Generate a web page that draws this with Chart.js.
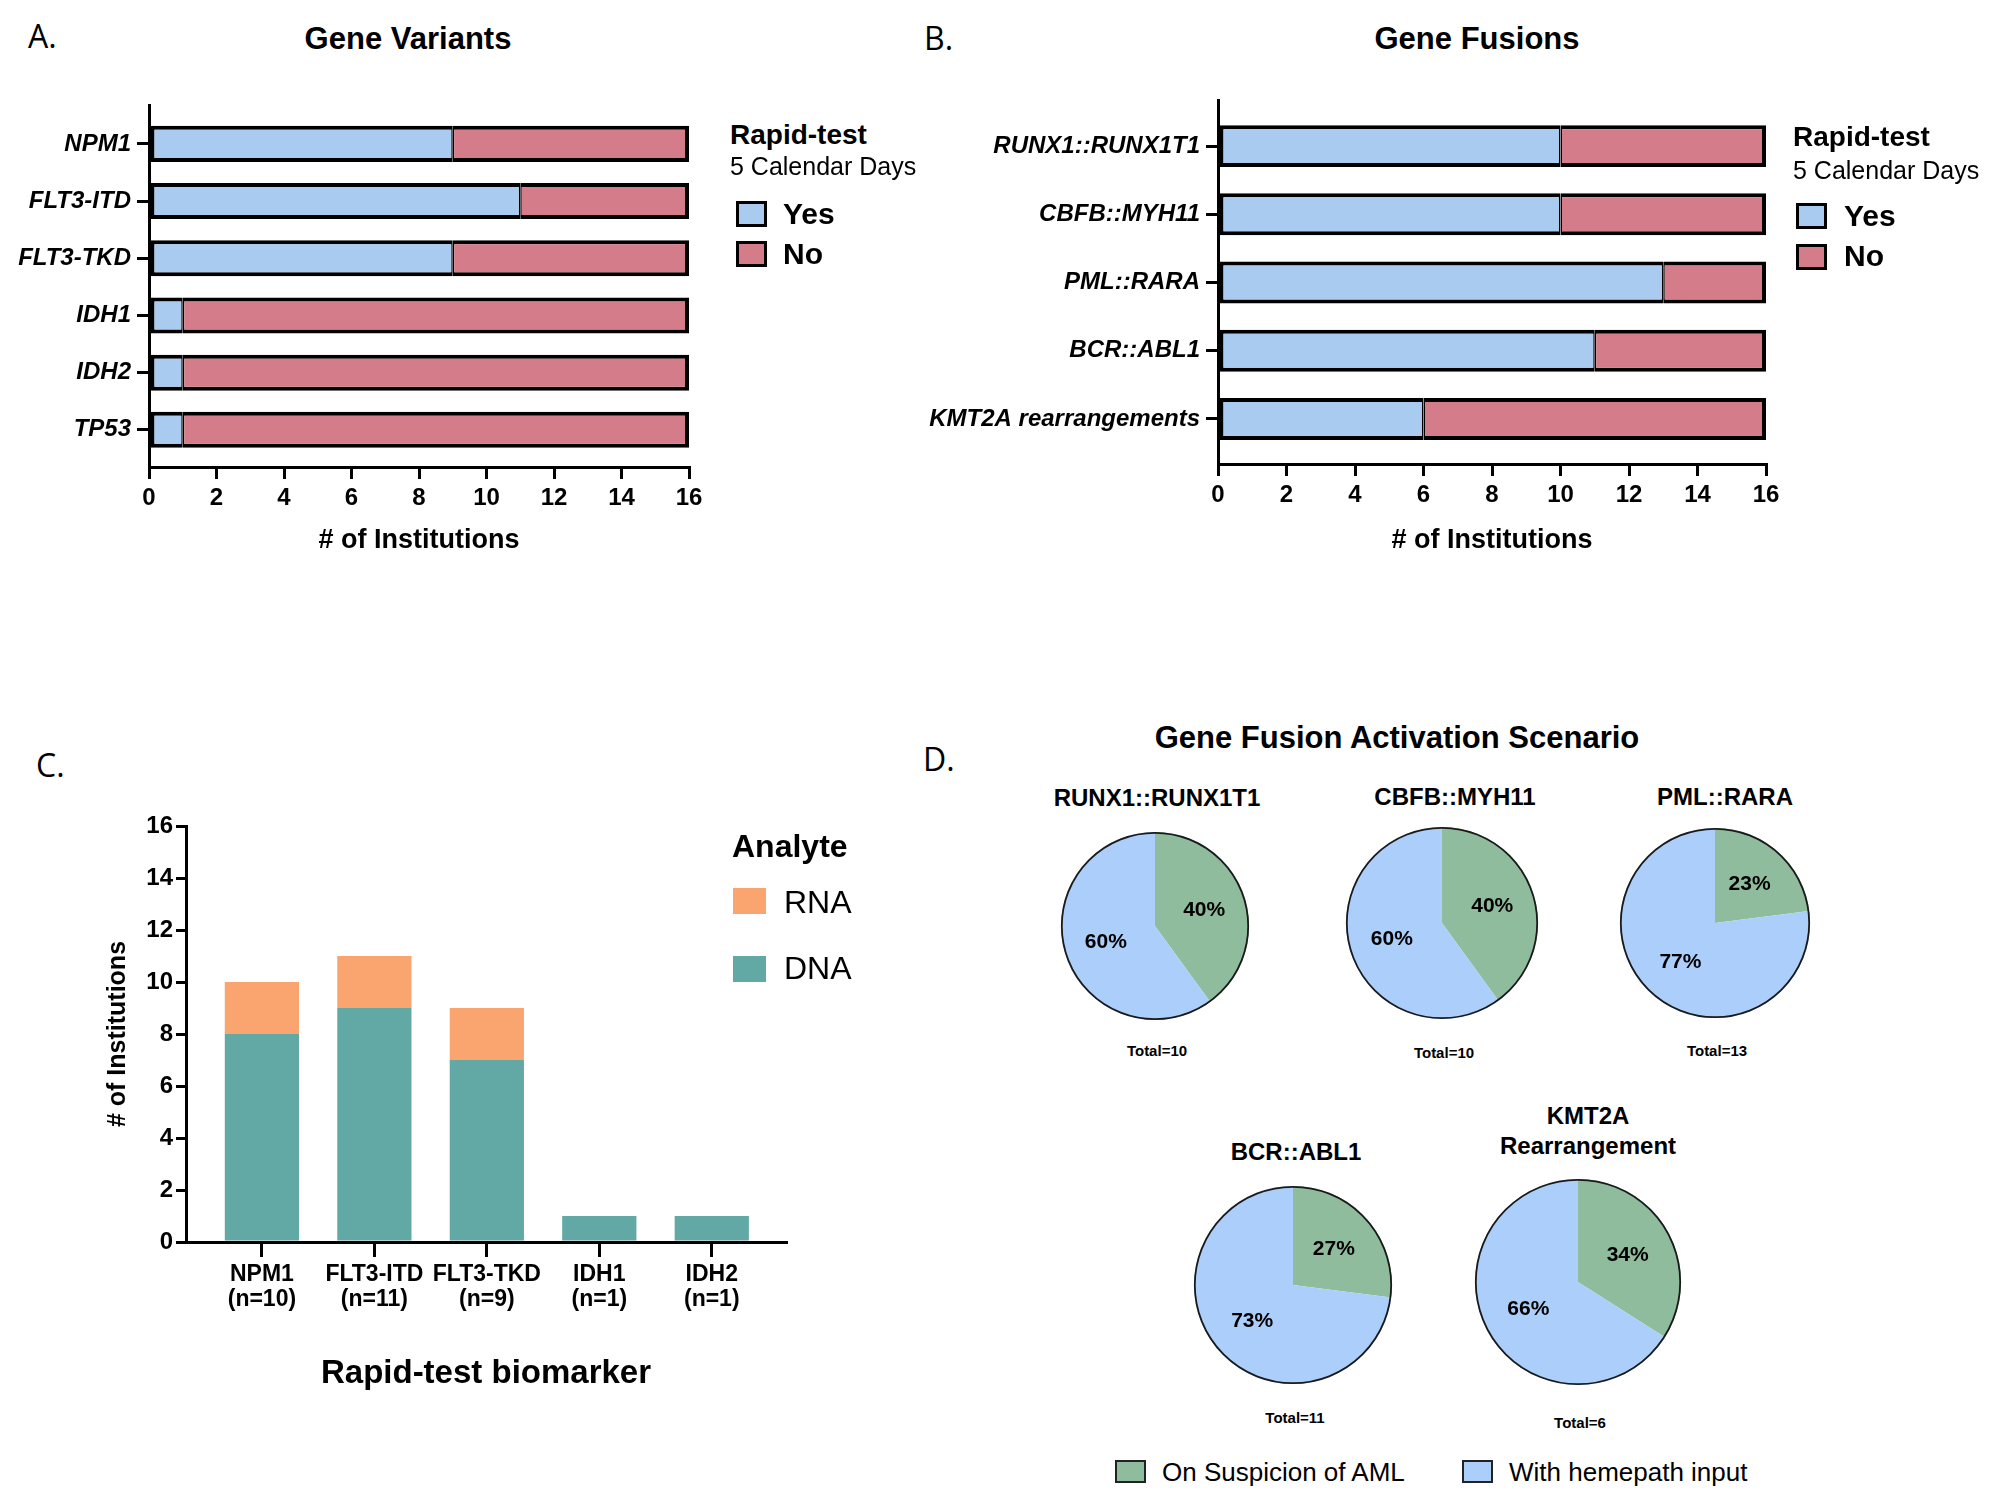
<!DOCTYPE html>
<html>
<head>
<meta charset="utf-8">
<script src="https://cdn.jsdelivr.net/npm/chart.js@4.4.1/dist/chart.umd.min.js"></script>
<style>
  body { margin: 0; background: #fff; }
  #page { position: relative; width: 1993px; height: 1505px; font-family: "Liberation Sans", Arial, sans-serif; color: #000; }
  canvas { position: absolute; }
  .t { position: absolute; white-space: nowrap; line-height: 1; transform: translateY(-50%); }
  .c { transform: translate(-50%, -50%); }
  .b { font-weight: bold; }
  .box { position: absolute; box-sizing: border-box; border: 3px solid #000; }
  .letter { font-family: "Open Sans", sans-serif; font-size: 32px; }
</style>
</head>
<body>
<div id="page">
  <!-- panel letters and titles -->
  <div class="t letter" style="left:28px; top:36px;">A.</div>
  <div class="t letter" style="left:924px; top:38px;">B.</div>
  <div class="t letter" style="left:36px; top:765px;">C.</div>
  <div class="t letter" style="left:923px; top:759px;">D.</div>
  <div class="t c b" style="left:408px; top:38px; font-size:31px;">Gene Variants</div>
  <div class="t c b" style="left:1477px; top:38px; font-size:31px;">Gene Fusions</div>
  <div class="t c b" style="left:1397px; top:737px; font-size:31px;">Gene Fusion Activation Scenario</div>

  <canvas id="chartA" width="720" height="480" style="left:0px; top:80px;"></canvas>
  <canvas id="chartB" width="900" height="480" style="left:900px; top:80px;"></canvas>
  <canvas id="chartC" width="820" height="620" style="left:0px; top:780px;"></canvas>

  <!-- legend A -->
  <div class="t b" style="left:730px; top:135px; font-size:28px;">Rapid-test</div>
  <div class="t" style="left:730px; top:166px; font-size:25px;">5 Calendar Days</div>
  <div class="box" style="left:736px; top:201px; width:31px; height:26px; background:#a8cbef;"></div>
  <div class="t b" style="left:783px; top:214px; font-size:30px;">Yes</div>
  <div class="box" style="left:736px; top:241px; width:31px; height:26px; background:#d57c8b;"></div>
  <div class="t b" style="left:783px; top:254px; font-size:30px;">No</div>

  <!-- legend B -->
  <div class="t b" style="left:1793px; top:137px; font-size:28px;">Rapid-test</div>
  <div class="t" style="left:1793px; top:170px; font-size:25px;">5 Calendar Days</div>
  <div class="box" style="left:1796px; top:203px; width:31px; height:26px; background:#a8cbef;"></div>
  <div class="t b" style="left:1844px; top:216px; font-size:30px;">Yes</div>
  <div class="box" style="left:1796px; top:244px; width:31px; height:26px; background:#d57c8b;"></div>
  <div class="t b" style="left:1844px; top:256px; font-size:30px;">No</div>

  <!-- legend C -->
  <div class="t b" style="left:732px; top:846px; font-size:32px;">Analyte</div>
  <div style="position:absolute; left:733px; top:888px; width:33px; height:26px; background:#faa46f;"></div>
  <div class="t" style="left:784px; top:902px; font-size:32px;">RNA</div>
  <div style="position:absolute; left:733px; top:956px; width:33px; height:26px; background:#62a8a4;"></div>
  <div class="t" style="left:784px; top:968px; font-size:32px;">DNA</div>

  <!-- legend D -->
  <div class="box" style="left:1115px; top:1460px; width:31px; height:23px; border-width:2px; border-color:#222; background:#8fbc9c;"></div>
  <div class="t" style="left:1162px; top:1472px; font-size:26px;">On Suspicion of AML</div>
  <div class="box" style="left:1462px; top:1460px; width:31px; height:23px; border-width:2px; border-color:#222; background:#abcefb;"></div>
  <div class="t" style="left:1509px; top:1472px; font-size:26px;">With hemepath input</div>
</div>

<script>
// Panel A: gene variants tested within 5 calendar days
var variantGenes = ['NPM1', 'FLT3-ITD', 'FLT3-TKD', 'IDH1', 'IDH2', 'TP53'];
var variantYes = [9, 11, 9, 1, 1, 1];
var variantNo = [7, 5, 7, 15, 15, 15];

// Panel B: gene fusions
var fusionGenes = ['RUNX1::RUNX1T1', 'CBFB::MYH11', 'PML::RARA', 'BCR::ABL1', 'KMT2A rearrangements'];
var fusionYes = [10, 10, 13, 11, 6];
var fusionNo = [6, 6, 3, 5, 10];

// Panel C: analyte per rapid-test biomarker
var biomarkers = ['NPM1', 'FLT3-ITD', 'FLT3-TKD', 'IDH1', 'IDH2'];
var biomarkerN = ['(n=10)', '(n=11)', '(n=9)', '(n=1)', '(n=1)'];
var dnaCounts = [8, 9, 7, 1, 1];
var rnaCounts = [2, 2, 2, 0, 0];

// Panel D: activation scenario (percent)
var pieTitles = [['RUNX1::RUNX1T1'], ['CBFB::MYH11'], ['PML::RARA'], ['BCR::ABL1'], ['KMT2A', 'Rearrangement']];
var suspicionPct = [40, 40, 23, 27, 34];
var hemepathPct = [60, 60, 77, 73, 66];
var pieTotals = [10, 10, 13, 11, 6];
var sliceLabels = ['On Suspicion of AML', 'With hemepath input'];

var FONT = '"Liberation Sans", Arial, sans-serif';
Chart.defaults.font.family = FONT;
Chart.defaults.color = '#000';

var BLUE = '#a8cbef';
var PINK = '#d57c8b';

function axisStyle(tickLen) {
    return {
        offset: false,
        grid: { offset: false, drawOnChartArea: false, drawTicks: true, tickLength: tickLen, lineWidth: 3, tickWidth: 3, color: '#000', tickColor: '#000' },
        border: { display: true, color: '#000', width: 3 }
    };
}

// horizontal stacked Yes/No bars (panels A and B)
function yesNoChart(id, genes, yes, no, cfg) {
    var bw = 4;
    return new Chart(document.getElementById(id), {
        type: 'bar',
        data: {
            datasets: [{
                label: 'Yes',
                data: yes.map((v, i) => ({ x: v, y: i })),
                backgroundColor: BLUE,
                borderColor: '#000',
                borderWidth: { top: bw, bottom: bw, left: bw, right: 1.5 },
                borderSkipped: false,
                barPercentage: cfg.barPct,
                categoryPercentage: 1
            }, {
                label: 'No',
                data: no.map((v, i) => ({ x: v, y: i })),
                backgroundColor: PINK,
                borderColor: '#000',
                borderWidth: { top: bw, bottom: bw, left: 1.5, right: bw },
                borderSkipped: false,
                barPercentage: cfg.barPct,
                categoryPercentage: 1
            }]
        },
        options: {
            indexAxis: 'y',
            responsive: false,
            animation: false,
            layout: { padding: { top: cfg.padTop, right: cfg.padRight } },
            plugins: { legend: { display: false }, tooltip: { enabled: false } },
            scales: {
                x: Object.assign({
                    type: 'linear',
                    stacked: true,
                    min: 0,
                    max: 16,
                    ticks: { stepSize: 2, padding: 5, font: { size: 24, weight: 'bold' } },
                    title: { display: true, text: '# of Institutions', font: { size: 27, weight: 'bold' }, padding: { bottom: 3 } },
                    afterFit: s => { s.height = cfg.xHeight; }
                }, axisStyle(12)),
                y: Object.assign({
                    type: 'linear',
                    stacked: true,
                    reverse: true,
                    min: cfg.yMin,
                    max: cfg.yMax,
                    afterBuildTicks: s => { s.ticks = genes.map((g, i) => ({ value: i })); },
                    ticks: { autoSkip: false, padding: 6, callback: v => genes[v], font: { size: 24, weight: 'bold', style: 'italic' } },
                    afterFit: s => { s.width = cfg.yWidth; }
                }, axisStyle(12))
            }
        }
    });
}

yesNoChart('chartA', variantGenes, variantYes, variantNo,
    { barPct: 0.63, padTop: 25, padRight: 31, yWidth: 149, xHeight: 93, yMin: -0.68, yMax: 5.65 });
yesNoChart('chartB', fusionGenes, fusionYes, fusionNo,
    { barPct: 0.615, padTop: 20, padRight: 34, yWidth: 318, xHeight: 96, yMin: -0.67, yMax: 4.66 });

// Panel C
new Chart(document.getElementById('chartC'), {
    type: 'bar',
    data: {
        datasets: [{
            label: 'DNA',
            data: dnaCounts.map((v, i) => ({ x: i, y: v })),
            backgroundColor: '#62a8a4',
            barPercentage: 0.66,
            categoryPercentage: 1
        }, {
            label: 'RNA',
            data: rnaCounts.map((v, i) => ({ x: i, y: v })),
            backgroundColor: '#faa46f',
            barPercentage: 0.66,
            categoryPercentage: 1
        }]
    },
    options: {
        responsive: false,
        animation: false,
        layout: { padding: { top: 46, right: 34 } },
        plugins: { legend: { display: false }, tooltip: { enabled: false } },
        scales: {
            x: Object.assign({
                type: 'linear',
                stacked: true,
                min: -0.675,
                max: 4.66,
                afterBuildTicks: s => { s.ticks = biomarkers.map((b, i) => ({ value: i })); },
                ticks: { autoSkip: false, maxRotation: 0, padding: 5, callback: v => [biomarkers[v], biomarkerN[v]], font: { size: 23, weight: 'bold', lineHeight: 1.09 } },
                title: { display: true, text: 'Rapid-test biomarker', font: { size: 33, weight: 'bold' }, padding: { bottom: 6 } },
                afterFit: s => { s.height = 158; }
            }, axisStyle(15)),
            y: Object.assign({
                stacked: true,
                min: 0,
                max: 16,
                ticks: { stepSize: 2, padding: 3, font: { size: 24, weight: 'bold' } },
                title: { display: true, text: '# of Institutions', font: { size: 25, weight: 'bold' }, padding: { top: 103 } },
                afterFit: s => { s.width = 186; }
            }, axisStyle(10))
        }
    }
});

// Panel D: pies with outline and percentage text
var pieDecor = {
    id: 'pieDecor',
    afterDatasetsDraw(chart) {
        var ctx = chart.ctx;
        var arcs = chart.getDatasetMeta(0).data;
        var values = chart.data.datasets[0].data;
        var a0 = arcs[0];
        ctx.save();
        ctx.beginPath();
        ctx.arc(a0.x, a0.y, a0.outerRadius - 0.8, 0, Math.PI * 2);
        ctx.lineWidth = 1.8;
        ctx.strokeStyle = '#1a1a1a';
        ctx.stroke();
        ctx.font = 'bold 21px ' + FONT;
        ctx.textAlign = 'center';
        ctx.textBaseline = 'middle';
        ctx.fillStyle = '#000';
        arcs.forEach((arc, i) => {
            var mid = (arc.startAngle + arc.endAngle) / 2;
            var r = arc.outerRadius * 0.55;
            ctx.fillText(values[i] + '%', arc.x + Math.cos(mid) * r, arc.y + Math.sin(mid) * r);
        });
        ctx.restore();
    }
};

// where each pie sits on the page
var pieLayout = [
    { cx: 1155, cy: 926, r: 94, titleY: 798, totalY: 1050 },
    { cx: 1442, cy: 923, r: 96, titleY: 797, totalY: 1052 },
    { cx: 1715, cy: 923, r: 95, titleY: 797, totalY: 1050 },
    { cx: 1293, cy: 1285, r: 99, titleY: 1152, totalY: 1417 },
    { cx: 1578, cy: 1282, r: 103, titleY: 1116, totalY: 1422 }
];
var titleX = [1157, 1455, 1725, 1296, 1588];

var page = document.getElementById('page');
pieLayout.forEach((p, i) => {
    var size = 2 * p.r + 8;
    var cv = document.createElement('canvas');
    cv.width = size;
    cv.height = size;
    cv.style.left = (p.cx - size / 2) + 'px';
    cv.style.top = (p.cy - size / 2) + 'px';
    page.appendChild(cv);

    pieTitles[i].forEach((line, k) => {
        var d = document.createElement('div');
        d.className = 't c b';
        d.style.left = titleX[i] + 'px';
        d.style.top = (p.titleY + k * 30) + 'px';
        d.style.fontSize = '24px';
        d.textContent = line;
        page.appendChild(d);
    });
    var tot = document.createElement('div');
    tot.className = 't c b';
    tot.style.left = (p.cx + 2) + 'px';
    tot.style.top = p.totalY + 'px';
    tot.style.fontSize = '15px';
    tot.textContent = 'Total=' + pieTotals[i];
    page.appendChild(tot);

    new Chart(cv, {
        type: 'pie',
        data: {
            labels: sliceLabels,
            datasets: [{
                data: [suspicionPct[i], hemepathPct[i]],
                backgroundColor: ['#8fbc9c', '#abcefb'],
                borderWidth: 0,
                radius: p.r
            }]
        },
        options: {
            responsive: false,
            animation: false,
            plugins: { legend: { display: false }, tooltip: { enabled: false } }
        },
        plugins: [pieDecor]
    });
});
</script>
</body>
</html>
